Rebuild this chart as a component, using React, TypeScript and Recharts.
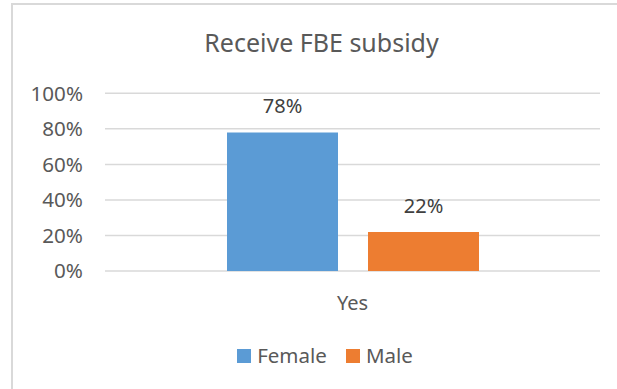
import React from "react";
import { BarChart, Bar, XAxis, YAxis, CartesianGrid, Legend, LabelList } from "recharts";

const categories = ["Yes"];
const femaleValues = [0.78];
const maleValues = [0.22];
const yTicks = [0, 0.2, 0.4, 0.6, 0.8, 1];
const seriesNames = ["Female", "Male"];

const data = categories.map((c, i) => ({ name: c, Female: femaleValues[i], Male: maleValues[i] }));

const FONT = '"Noto Sans", "Open Sans", sans-serif';
const BLUE = "#5B9BD5";
const ORANGE = "#ED7D31";
const pct = (v: number) => `${Math.round(v * 100)}%`;

const LegendContent = (props: any) => {
  const items = props.payload || [];
  return (
    <div style={{ display: "flex", justifyContent: "center", paddingLeft: 33, fontFamily: FONT, height: 21 }}>
      {items.map((it: any, i: number) => (
        <div key={i} style={{ display: "flex", alignItems: "flex-start", marginLeft: i === 0 ? 0 : 19 }}>
          <span style={{ display: "inline-block", width: 14, height: 14, marginTop: 4.5, background: it.color }} />
          <span style={{ marginLeft: 6, fontSize: 20.5, lineHeight: 1, color: "#595959" }}>{it.value}</span>
        </div>
      ))}
    </div>
  );
};

export default function App() {
  return (
    <div style={{ position: "absolute", left: 0, top: 0, width: 617, height: 389, overflow: "hidden", background: "#fff" }}>
      <div
        style={{
          position: "absolute",
          left: 11,
          top: 3,
          width: 606,
          height: 386,
          borderLeft: "2px solid #d9d9d9",
          borderTop: "2px solid #d9d9d9",
          boxSizing: "border-box",
        }}
      />
      <div
        style={{
          position: "absolute",
          left: 0,
          top: 29.8,
          width: 643,
          textAlign: "center",
          fontFamily: FONT,
          fontSize: 25,
          lineHeight: 1,
          color: "#595959",
        }}
      >
        Receive FBE subsidy
      </div>
      <div style={{ position: "absolute", left: 0, top: 0, width: 617, height: 389, overflow: "hidden" }}>
        <BarChart
          width={617}
          height={389}
          data={data}
          margin={{ top: 93.3, right: 17, left: 0, bottom: 12 }}
          barSize={111}
          barGap={30}
          accessibilityLayer={false}
          style={{ outline: "none" }}
        >
          <CartesianGrid vertical={false} stroke="#d9d9d9" strokeWidth={1.5} />
          <XAxis
            dataKey="name"
            axisLine={false}
            tickLine={false}
            tickSize={0}
            tickMargin={24.8}
            height={85}
            tick={{ fill: "#595959", fontSize: 20, fontFamily: FONT }}
          />
          <YAxis
            domain={[0, 1]}
            ticks={yTicks}
            tickFormatter={pct}
            axisLine={false}
            tickLine={false}
            tickSize={0}
            tickMargin={22}
            width={105}
            interval={0}
            tick={{ fill: "#595959", fontSize: 20.6, fontFamily: FONT }}
          />
          <Legend
            content={<LegendContent />}
            verticalAlign="bottom"
            wrapperStyle={{ top: 344.5, bottom: "auto", left: 0, width: 617, height: 21 }}
          />
          <Bar dataKey={seriesNames[0]} fill={BLUE} isAnimationActive={false}>
            <LabelList dataKey={seriesNames[0]} position="top" offset={19} formatter={pct} fill="#404040" fontSize={20} fontFamily={FONT} />
          </Bar>
          <Bar dataKey={seriesNames[1]} fill={ORANGE} isAnimationActive={false}>
            <LabelList dataKey={seriesNames[1]} position="top" offset={19} formatter={pct} fill="#404040" fontSize={20} fontFamily={FONT} />
          </Bar>
        </BarChart>
      </div>
    </div>
  );
}
